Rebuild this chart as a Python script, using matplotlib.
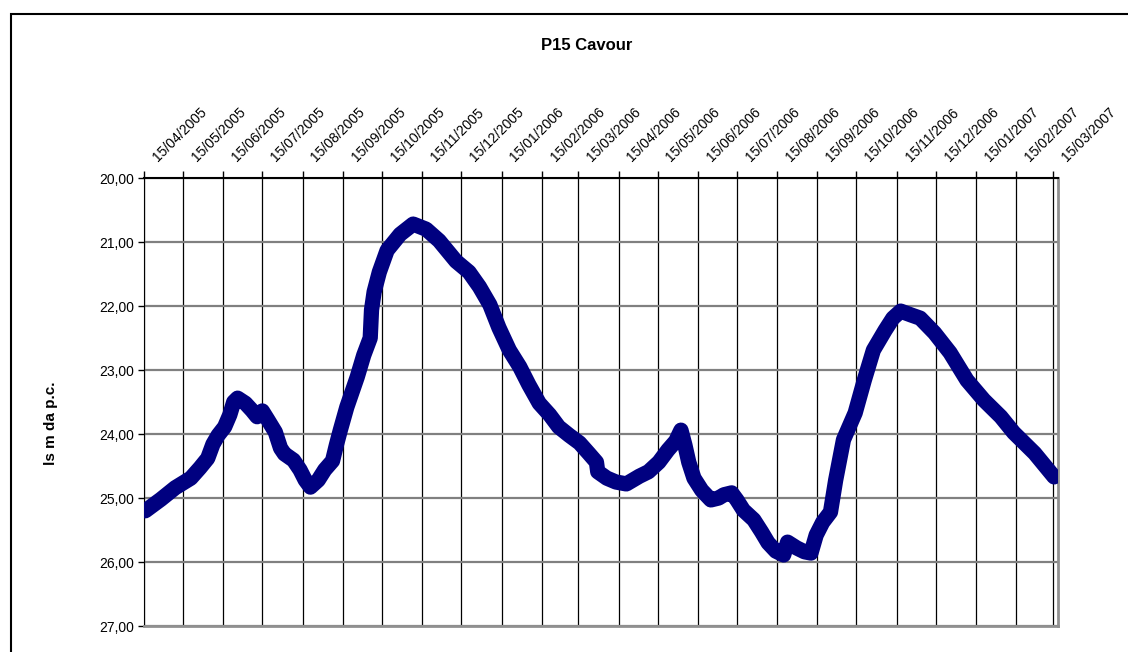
import pandas as pd
import matplotlib
matplotlib.use("Agg")
import matplotlib.pyplot as plt
import matplotlib.transforms as mtransforms
from matplotlib.patches import Rectangle
from matplotlib.ticker import FuncFormatter

# readings (date, level in m below ground)
dates = [
    "16/04/2005", "28/04/2005", "09/05/2005", "21/05/2005", "28/05/2005", "03/06/2005",
    "07/06/2005", "11/06/2005", "16/06/2005", "20/06/2005", "23/06/2005", "26/06/2005",
    "02/07/2005", "07/07/2005", "11/07/2005", "15/07/2005", "19/07/2005", "25/07/2005",
    "29/07/2005", "01/08/2005", "08/08/2005", "13/08/2005", "17/08/2005", "21/08/2005",
    "27/08/2005", "01/09/2005", "07/09/2005", "10/09/2005", "13/09/2005", "18/09/2005",
    "26/09/2005", "01/10/2005", "06/10/2005", "07/10/2005", "09/10/2005", "13/10/2005",
    "19/10/2005", "29/10/2005", "08/11/2005", "18/11/2005", "28/11/2005", "11/12/2005",
    "21/12/2005", "29/12/2005", "06/01/2006", "13/01/2006", "21/01/2006", "29/01/2006",
    "05/02/2006", "13/02/2006", "21/02/2006", "28/02/2006", "08/03/2006", "16/03/2006",
    "23/03/2006", "29/03/2006", "30/03/2006", "06/04/2006", "13/04/2006", "21/04/2006",
    "01/05/2006", "08/05/2006", "16/05/2006", "23/05/2006", "29/05/2006", "02/06/2006",
    "05/06/2006", "08/06/2006", "12/06/2006", "18/06/2006", "25/06/2006", "01/07/2006",
    "05/07/2006", "11/07/2006", "15/07/2006", "20/07/2006", "28/07/2006", "03/08/2006",
    "08/08/2006", "14/08/2006", "20/08/2006", "23/08/2006", "30/08/2006", "05/09/2006",
    "10/09/2006", "14/09/2006", "19/09/2006", "25/09/2006", "29/09/2006", "05/10/2006",
    "14/10/2006", "21/10/2006", "28/10/2006", "06/11/2006", "12/11/2006", "18/11/2006",
    "26/11/2006", "03/12/2006", "14/12/2006", "26/12/2006", "08/01/2007", "21/01/2007",
    "03/02/2007", "13/02/2007", "01/03/2007", "16/03/2007",
]
levels = [
    25.20, 25.02, 24.84, 24.69, 24.53, 24.38,
    24.16, 24.02, 23.89, 23.70, 23.50, 23.44,
    23.52, 23.63, 23.73, 23.64, 23.77, 23.97,
    24.22, 24.31, 24.41, 24.56, 24.72, 24.83,
    24.72, 24.56, 24.42, 24.17, 23.94, 23.58,
    23.11, 22.77, 22.50, 22.06, 21.78, 21.47,
    21.13, 20.88, 20.72, 20.80, 20.98, 21.30,
    21.47, 21.70, 21.98, 22.34, 22.69, 22.95,
    23.23, 23.52, 23.70, 23.89, 24.02, 24.14,
    24.30, 24.44, 24.59, 24.69, 24.75, 24.78,
    24.66, 24.59, 24.44, 24.25, 24.11, 23.94,
    24.17, 24.44, 24.69, 24.88, 25.03, 25.00,
    24.95, 24.92, 25.03, 25.19, 25.34, 25.53,
    25.70, 25.83, 25.89, 25.69, 25.78, 25.84,
    25.86, 25.58, 25.38, 25.22, 24.72, 24.09,
    23.67, 23.16, 22.69, 22.38, 22.19, 22.08,
    22.14, 22.19, 22.42, 22.73, 23.16, 23.47,
    23.73, 23.98, 24.30, 24.67,
]

tick_dates = pd.date_range("2005-04-01", "2007-03-01", freq="MS") + pd.Timedelta(days=14)
y_ticks = [20, 21, 22, 23, 24, 25, 26, 27]

x = pd.to_datetime(dates, dayfirst=True)

plt.rcParams["font.family"] = ["Liberation Sans", "DejaVu Sans"]

fig = plt.figure(figsize=(11.28, 6.52), dpi=100)
ax = fig.add_axes([144 / 1128, 1 - 626 / 652, (1058 - 144) / 1128, (626 - 178) / 652])

ax.plot(x, levels, color="#000080", linewidth=11, solid_capstyle="round",
        solid_joinstyle="round", zorder=3)

ax.set_ylim(27, 20)
ax.set_yticks(y_ticks)
ax.yaxis.set_major_formatter(FuncFormatter(lambda v, p: f"{v:.2f}".replace(".", ",")))
ax.set_xlim(pd.Timestamp("2005-04-15"), pd.Timestamp("2007-03-19"))

ax.xaxis.tick_top()
ax.set_xticks(tick_dates, labels=[d.strftime("%d/%m/%Y") for d in tick_dates],
              rotation=45, ha="left", va="bottom", rotation_mode="anchor")
ax.tick_params(axis="x", which="major", direction="out", length=5, width=1, colors="black",
               labelsize=10, pad=2)
ax.tick_params(axis="y", which="major", direction="out", length=4, width=1, colors="black",
               labelsize=10, pad=3)

# shift the slanted date labels a bit to the right, like the original
shift = mtransforms.ScaledTranslation(16 / 100, 4 / 100, fig.dpi_scale_trans)
for lab in ax.get_xticklabels():
    lab.set_transform(lab.get_transform() + shift)

ax.grid(axis="x", color="black", linewidth=0.9)
ax.grid(axis="y", color="#808080", linewidth=1.6)
ax.set_axisbelow(True)

ax.spines["left"].set_color("black")
ax.spines["top"].set_color("black")
ax.spines["top"].set_linewidth(1.5)
for s in ["right", "bottom"]:
    ax.spines[s].set_color("#909090")
    ax.spines[s].set_linewidth(2)

fig.text(51 / 1128, 1 - 423 / 652, "ls m da p.c.", fontsize=11, fontweight="bold",
         rotation=90, ha="center", va="center")

fig.text(587 / 1128, 1 - 45 / 652, "P15 Cavour", fontsize=12, fontweight="bold",
         ha="center", va="center")

fig.add_artist(Rectangle((11 / 1128, -0.2), 1.2, 0.2 + (1 - 14 / 652), transform=fig.transFigure,
                         fill=False, edgecolor="black", linewidth=1.5))

fig.savefig("out.png", dpi=100)
